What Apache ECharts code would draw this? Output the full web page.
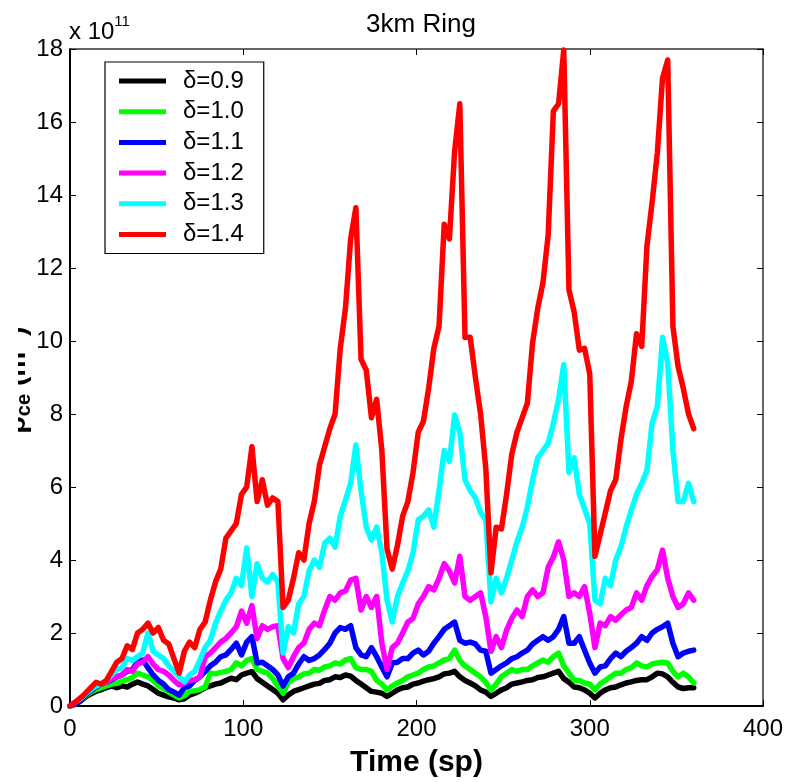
<!DOCTYPE html>
<html>
<head>
<meta charset="utf-8">
<script src="https://cdn.jsdelivr.net/npm/echarts@6/dist/echarts.min.js"></script>
<style>
  html, body { margin: 0; padding: 0; background: #fff; }
  #chart { width: 798px; height: 782px; }
</style>
</head>
<body>
<div id="chart"></div>
<script>
// sample times (sp)
const time = [
  0, 3, 6, 9, 12, 15, 18, 21, 24, 27,
  30, 33, 36, 39, 42, 45, 48, 51, 54, 57,
  60, 63, 66, 69, 72, 75, 78, 81, 84, 87,
  90, 93, 96, 99, 102, 105, 108, 111, 114, 117,
  120, 123, 126, 129, 132, 135, 138, 141, 144, 147,
  150, 153, 156, 159, 162, 165, 168, 171, 174, 177,
  180, 183, 186, 189, 192, 195, 198, 201, 204, 207,
  210, 213, 216, 219, 222, 225, 228, 231, 234, 237,
  240, 243, 246, 249, 252, 255, 258, 261, 264, 267,
  270, 273, 276, 279, 282, 285, 288, 291, 294, 297,
  300, 303, 306, 309, 312, 315, 318, 321, 324, 327,
  330, 333, 336, 339, 342, 345, 348, 351, 354, 357,
  360
];

// rho_ce, units of 1e11
const d09 = [
  0, 0.05, 0.13, 0.25, 0.33, 0.4, 0.45, 0.5, 0.55, 0.5,
  0.55, 0.52, 0.6, 0.66, 0.6, 0.55, 0.45, 0.35, 0.3, 0.25,
  0.22, 0.17, 0.2, 0.3, 0.35, 0.42, 0.5, 0.55, 0.6, 0.63,
  0.7, 0.76, 0.72, 0.85, 0.9, 0.94, 0.75, 0.65, 0.55, 0.45,
  0.35, 0.17, 0.3, 0.4, 0.45, 0.5, 0.55, 0.6, 0.62, 0.7,
  0.72, 0.8, 0.78, 0.85, 0.82, 0.7, 0.6, 0.5, 0.4, 0.38,
  0.35, 0.26, 0.35, 0.44, 0.5, 0.52, 0.6, 0.63, 0.68, 0.72,
  0.75, 0.8, 0.88, 0.9, 0.95, 0.8, 0.7, 0.63, 0.55, 0.44,
  0.38, 0.26, 0.35, 0.44, 0.5, 0.6, 0.63, 0.66, 0.7, 0.72,
  0.78, 0.8, 0.85, 0.9, 0.95, 0.75, 0.65, 0.52, 0.5, 0.44,
  0.35, 0.22, 0.35, 0.44, 0.5, 0.52, 0.58, 0.63, 0.66, 0.7,
  0.72, 0.72, 0.8, 0.9, 0.88, 0.8, 0.65, 0.52, 0.48, 0.5,
  0.5
];
const d10 = [
  0, 0.05, 0.15, 0.28, 0.38, 0.45, 0.5, 0.55, 0.6, 0.62,
  0.68, 0.72, 0.78, 0.9, 0.85, 0.8, 0.7, 0.55, 0.48, 0.38,
  0.3, 0.22, 0.28, 0.4, 0.42, 0.45, 0.52, 0.9, 0.88, 0.92,
  0.95, 1.0, 1.18, 1.1, 1.25, 1.3, 1.0, 0.95, 0.9, 0.75,
  0.55, 0.35, 0.65, 0.75, 0.8, 0.88, 0.9, 1.0, 0.98, 1.07,
  1.1, 1.18, 1.15, 1.26, 1.3, 1.05, 1.0, 1.0, 0.95, 0.7,
  0.6, 0.44, 0.55, 0.63, 0.7, 0.8, 0.85, 0.9, 1.0, 1.07,
  1.1, 1.18, 1.26, 1.3, 1.53, 1.25, 1.1, 1.0, 0.9, 0.8,
  0.65, 0.44, 0.6, 0.8, 0.9, 1.0, 0.95, 1.0, 1.0, 1.1,
  1.18, 1.26, 1.2, 1.35, 1.45, 1.1, 0.9, 0.7, 0.7, 0.63,
  0.6, 0.44, 0.6, 0.7, 0.8, 0.9, 0.9, 1.0, 1.05, 1.18,
  1.1, 1.07, 1.15, 1.18, 1.2, 1.18, 0.95, 0.8, 0.9, 0.8,
  0.63
];
const d11 = [
  0, 0.05, 0.15, 0.3, 0.42, 0.52, 0.6, 0.65, 0.72, 0.8,
  0.85, 0.95, 1.0, 1.2, 1.26, 1.05, 0.85, 0.7, 0.6, 0.45,
  0.38, 0.3, 0.5, 0.55, 0.7, 0.8, 0.95, 1.1, 1.2, 1.35,
  1.4, 1.55, 1.72, 1.4, 1.75, 1.9, 1.18, 1.2, 1.1, 1.0,
  0.85, 0.55, 0.8, 0.9, 1.15, 1.35, 1.25, 1.3, 1.4, 1.55,
  1.72, 2.0, 2.15, 2.1, 2.2, 1.6, 1.4, 1.35, 1.6, 1.35,
  1.07, 0.8, 1.18, 1.2, 1.3, 1.3, 1.45, 1.53, 1.4, 1.5,
  1.72, 1.9, 2.1, 2.2, 2.3, 1.8, 1.72, 1.75, 1.7, 1.53,
  1.5, 0.9, 1.0, 1.1, 1.18, 1.3, 1.35, 1.45, 1.53, 1.7,
  1.8, 1.9, 1.8, 1.9, 2.1, 2.45, 1.72, 1.72, 1.9, 1.53,
  1.18, 0.9, 1.07, 1.1, 1.3, 1.45, 1.35, 1.5, 1.6, 1.72,
  1.9, 1.8, 2.0, 2.1, 2.17, 2.27, 1.72, 1.35, 1.45, 1.5,
  1.53
];
const d12 = [
  0, 0.1, 0.2, 0.33, 0.45, 0.55, 0.6, 0.65, 0.75, 0.8,
  0.85, 1.0, 0.95, 1.15, 1.2, 1.35, 1.15, 1.0, 0.95, 0.85,
  0.7, 0.58, 0.62, 0.7, 0.72, 0.8, 1.35, 1.45, 1.6, 1.75,
  1.85, 2.0, 2.17, 2.6, 2.27, 2.75, 1.85, 2.2, 2.1, 2.17,
  2.2, 1.3, 1.05, 1.35, 1.6, 1.72, 2.1, 2.27, 2.2, 2.63,
  3.0, 2.9, 3.1, 3.15, 3.45, 3.5, 2.63, 3.0, 2.7, 3.0,
  1.72, 1.0, 1.6, 1.72, 2.0, 2.3, 2.4, 2.8, 3.0, 3.27,
  3.18, 3.5, 3.9, 3.7, 3.37, 4.1, 3.0, 2.9, 3.0, 3.1,
  2.45, 1.5, 1.9, 1.6, 2.08, 2.4, 2.63, 2.45, 3.0, 3.18,
  3.0, 3.1, 3.8, 4.08, 4.5, 4.0, 3.0, 3.1, 3.0, 3.27,
  2.54, 1.6, 2.27, 2.2, 2.45, 2.35, 2.5, 2.63, 2.7, 3.1,
  2.9, 3.3, 3.55, 3.73, 4.27, 3.5, 3.0, 2.7, 2.8, 3.1,
  2.9
];
const d13 = [
  0, 0.1, 0.2, 0.33, 0.45, 0.55, 0.6, 0.7, 0.85, 1.0,
  1.05, 1.3, 1.25, 1.35, 1.45, 2.0, 1.5, 1.4, 1.3, 1.1,
  0.95, 0.8, 0.66, 0.85, 0.95, 1.26, 1.6, 1.8, 2.27, 2.6,
  2.9, 3.1, 3.5, 3.3, 4.33, 3.0, 3.9, 3.5, 3.4, 3.6,
  3.4, 1.45, 2.17, 2.0, 2.8, 3.0, 3.7, 4.0, 3.8, 4.46,
  4.6, 4.35, 5.2, 5.64, 6.1, 7.15, 5.9, 4.9, 4.55, 4.9,
  4.2, 2.9, 2.3, 3.0, 3.37, 3.7, 4.2, 5.1, 5.2, 5.37,
  4.9, 5.9, 7.0, 6.7, 7.97, 7.5, 6.2, 5.9, 5.7, 5.3,
  5.1, 2.85, 3.5, 3.1, 3.5, 4.0, 4.5, 4.9, 5.45, 6.2,
  6.8, 7.0, 7.2, 7.75, 8.4, 9.35, 6.4, 6.8, 5.8, 5.4,
  5.0, 2.9, 2.8, 3.5, 3.3, 4.0, 4.36, 4.9, 5.37, 5.8,
  6.1, 6.45, 7.75, 8.2, 10.1, 9.4, 7.0, 5.6, 5.6, 6.1,
  5.6
];
const d14 = [
  0, 0.1, 0.22, 0.35, 0.5, 0.65, 0.6, 0.7, 0.95, 1.2,
  1.3, 1.65, 1.55, 2.0, 2.1, 2.27, 2.0, 2.15, 1.8, 1.7,
  1.3, 0.9, 1.5, 1.75, 1.6, 2.1, 2.3, 2.9, 3.4, 3.75,
  4.6, 4.8, 5.0, 5.8, 6.0, 7.1, 5.6, 6.2, 5.5, 5.7,
  5.6, 2.7, 2.9, 3.5, 4.2, 4.0, 5.0, 5.6, 6.6, 7.1,
  7.6, 8.0, 9.8, 10.9, 12.8, 13.65, 9.5, 9.2, 7.9, 8.4,
  7.0, 4.3, 3.75, 4.4, 5.2, 5.6, 6.4, 7.5, 7.8, 8.7,
  9.8, 10.4, 13.2, 12.8, 15.2, 16.5, 10.1, 10.1, 9.0, 8.0,
  6.5, 3.65, 4.9, 4.85, 5.8, 6.9, 7.5, 7.9, 8.3, 9.95,
  10.9, 11.6, 12.9, 16.3, 16.5, 17.97, 11.4, 10.8, 9.75, 9.8,
  9.1, 4.1, 4.7, 5.3, 5.9, 6.2, 7.3, 8.2, 8.9, 10.2,
  9.85, 12.6, 13.8, 15.15, 17.2, 17.7, 10.4, 9.3, 8.7, 8.0,
  7.6
];

const names = ['δ=0.9', 'δ=1.0', 'δ=1.1', 'δ=1.2', 'δ=1.3', 'δ=1.4'];
const colors = ['#000000', '#00ff00', '#0000ff', '#ff00ff', '#00ffff', '#ff0000'];
const values = [d09, d10, d11, d12, d13, d14];

const xTicks = [0, 400, 100];   // min, max, step
const yTicks = [0, 18, 2];

const FONT = '"Liberation Sans", Arial, Helvetica, sans-serif';

let myChart = echarts.init(document.getElementById('chart'));

const mainLine = { show: true, onZero: false, lineStyle: { color: '#000', width: 2 } };
const mirrorLine = { show: true, onZero: false, lineStyle: { color: '#333', width: 1.5 } };
const ticks = { show: true, inside: true, length: 6, lineStyle: { color: '#000', width: 1 } };

myChart.setOption({
  animation: false,
  backgroundColor: '#fff',
  textStyle: { fontFamily: FONT },
  title: [{
    text: '3km Ring',
    left: 416,
    top: 7,
    textAlign: 'center',
    textStyle: { fontSize: 26, fontWeight: 'normal', color: '#000', fontFamily: FONT }
  }, {
    text: '{a|x 10}{b|11}',
    left: 69,
    top: 14,
    padding: 0,
    textStyle: {
      fontWeight: 'normal',
      rich: {
        a: { fontSize: 24, fontWeight: 'normal', lineHeight: 30, verticalAlign: 'bottom', color: '#000', fontFamily: FONT },
        b: { fontSize: 15, fontWeight: 'normal', lineHeight: 16, verticalAlign: 'top', color: '#000', fontFamily: FONT }
      }
    }
  }],
  grid: { left: 70, right: 35, top: 49, bottom: 76, containLabel: false, outerBoundsMode: 'none' },
  legend: {
    orient: 'vertical',
    left: 105,
    top: 62,
    data: names,
    icon: 'rect',
    itemWidth: 47,
    itemHeight: 5,
    itemGap: 6.7,
    padding: [7, 20, 7, 14],
    backgroundColor: '#fff',
    borderColor: '#000',
    borderWidth: 1.2,
    borderRadius: 0,
    textStyle: { fontSize: 24, lineHeight: 24, color: '#000', fontFamily: FONT, padding: [0, 0, 0, 12] }
  },
  xAxis: [{
    type: 'value',
    min: xTicks[0], max: xTicks[1], interval: xTicks[2],
    position: 'bottom',
    name: 'Time (sp)',
    nameLocation: 'middle',
    nameGap: 42,
    nameTextStyle: { fontSize: 30, fontWeight: 'bold', color: '#000', fontFamily: FONT },
    axisLabel: { fontSize: 24, color: '#000', margin: 11, fontFamily: FONT },
    axisLine: mainLine,
    axisTick: ticks,
    splitLine: { show: false }
  }, {
    type: 'value',
    min: xTicks[0], max: xTicks[1], interval: xTicks[2],
    position: 'top',
    axisLabel: { show: false },
    axisLine: mirrorLine,
    axisTick: ticks,
    splitLine: { show: false }
  }],
  yAxis: [{
    type: 'value',
    min: yTicks[0], max: yTicks[1], interval: yTicks[2],
    position: 'left',
    axisLabel: { fontSize: 24, color: '#000', margin: 7, fontFamily: FONT },
    axisLine: mainLine,
    axisTick: ticks,
    splitLine: { show: false }
  }, {
    type: 'value',
    min: yTicks[0], max: yTicks[1], interval: yTicks[2],
    position: 'right',
    axisLabel: { show: false },
    axisLine: mirrorLine,
    axisTick: ticks,
    splitLine: { show: false }
  }],
  graphic: [{
    // y label, rotated; the exported figure cuts it off at the left
    type: 'text',
    x: 34,
    y: 380,
    rotation: Math.PI / 2,
    z: 50,
    style: {
      text: '{a|ρ}{b|ce}{a| (m}{c|-3}{a|)}',
      align: 'center',
      verticalAlign: 'bottom',
      rich: {
        a: { fontSize: 28, fontWeight: 'bold', lineHeight: 34, fill: '#000', fontFamily: FONT },
        b: { fontSize: 20, fontWeight: 'bold', lineHeight: 8, verticalAlign: 'bottom', fill: '#000', fontFamily: FONT },
        c: { fontSize: 18, fontWeight: 'bold', lineHeight: 14, verticalAlign: 'top', fill: '#000', fontFamily: FONT }
      }
    }
  }, {
    type: 'rect',
    z: 100,
    shape: { x: 0, y: 250, width: 18, height: 260 },
    style: { fill: '#fff' }
  }],
  series: names.map((n, k) => ({
    name: n,
    type: 'line',
    showSymbol: false,
    symbol: 'none',
    color: colors[k],
    lineStyle: { width: 5.5, color: colors[k], join: 'round', cap: 'round' },
    data: time.map((t, i) => [t, values[k][i]])
  }))
});
</script>
</body>
</html>
